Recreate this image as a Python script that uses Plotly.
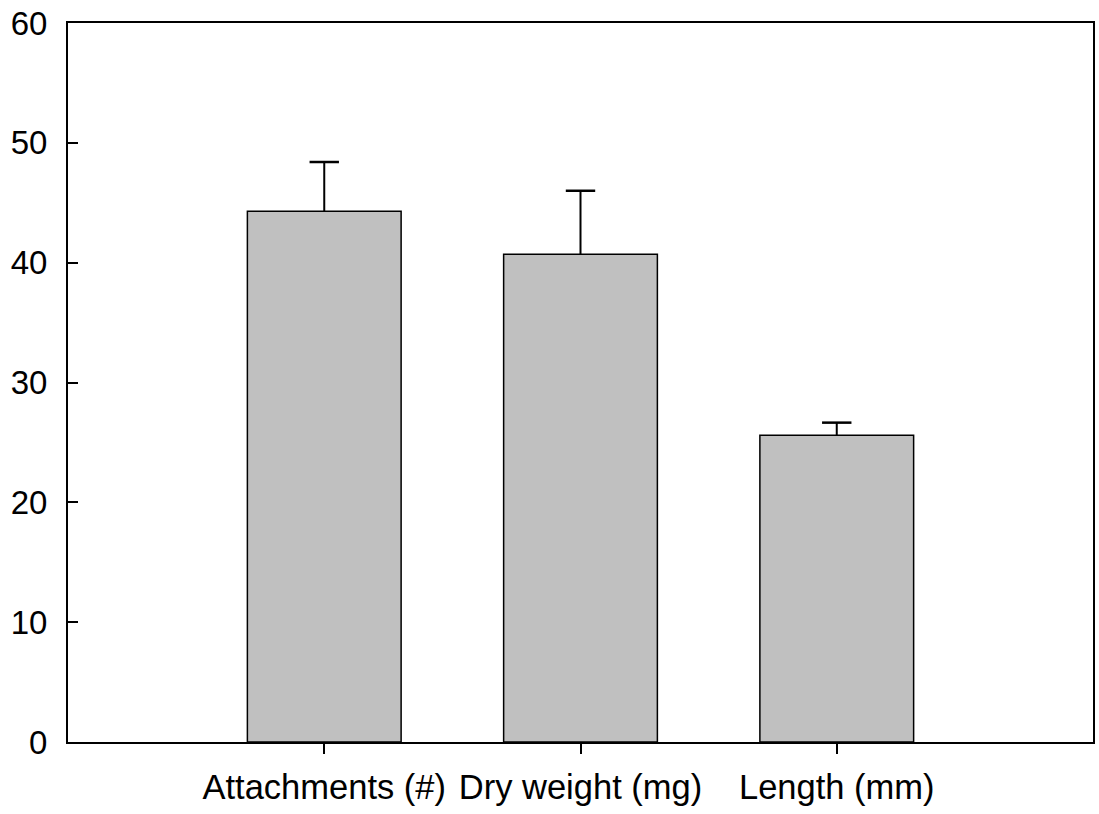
import plotly.graph_objects as go

categories = ["Attachments (#)", "Dry weight (mg)", "Length (mm)"]
means = [44.3, 40.7, 25.6]
errors = [4.1, 5.3, 1.05]
y_ticks = [0, 10, 20, 30, 40, 50, 60]

positions = [1, 2, 3]
tops = [m + e for m, e in zip(means, errors)]

fig = go.Figure()

# Bars with upper-only error stems (caps drawn separately below)
fig.add_trace(
    go.Bar(
        x=positions,
        y=means,
        width=0.6,
        marker=dict(color="#c0c0c0", line=dict(color="black", width=1.5)),
        error_y=dict(
            type="data",
            array=errors,
            arrayminus=[0] * len(errors),
            symmetric=False,
            color="black",
            thickness=2,
            width=0,
        ),
        hoverinfo="skip",
    )
)

# Caps at the top of each error bar
fig.add_trace(
    go.Scatter(
        x=positions,
        y=tops,
        mode="markers",
        marker=dict(
            symbol="line-ew-open",
            size=21,
            color="black",
            line=dict(color="black", width=2.5),
        ),
        hoverinfo="skip",
    )
)

fig.update_layout(
    width=1099,
    height=814,
    margin=dict(l=68, r=4, t=23, b=72),
    paper_bgcolor="white",
    plot_bgcolor="white",
    font=dict(family="Liberation Sans, Arial, sans-serif", size=33, color="black"),
    showlegend=False,
)

fig.update_xaxes(
    range=[0, 4],
    tickmode="array",
    tickvals=positions,
    ticktext=categories,
    tickfont=dict(size=34.5),
    ticks="outside",
    ticklen=10,
    tickwidth=1.5,
    tickcolor="black",
    showline=True,
    linecolor="black",
    linewidth=2,
    mirror=True,
    showgrid=False,
    zeroline=False,
    ticklabelstandoff=4,
)

fig.update_yaxes(
    range=[0, 60],
    tickmode="array",
    tickvals=y_ticks,
    tickfont=dict(size=33),
    ticks="inside",
    ticklen=10,
    tickwidth=1.5,
    tickcolor="black",
    showline=True,
    linecolor="black",
    linewidth=2,
    mirror=True,
    showgrid=False,
    zeroline=False,
    ticklabelstandoff=12,
)

fig.write_html("out.html")
